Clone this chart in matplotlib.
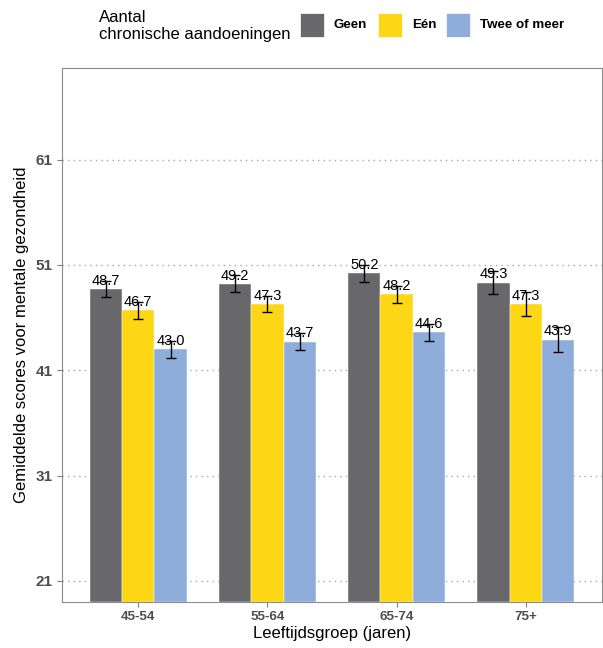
import numpy as np
import matplotlib
matplotlib.use('Agg')
from matplotlib import pyplot as plt
from matplotlib.patches import Rectangle

plt.rcParams['font.family'] = ['Liberation Sans', 'DejaVu Sans']

# data
leeftijd = ['45-54', '55-64', '65-74', '75+']
groepen = ['Geen', 'Eén', 'Twee of meer']
geen = [48.7, 49.2, 50.2, 49.3]
een = [46.7, 47.3, 48.2, 47.3]
twee = [43.0, 43.7, 44.6, 43.9]
geen_err = [0.75, 0.8, 0.8, 1.1]
een_err = [0.8, 0.75, 0.8, 1.15]
twee_err = [0.8, 0.8, 0.8, 1.2]
yticks = [21, 31, 41, 51, 61]

kleuren = ['#68686a', '#fdd716', '#8fadda']
grijs = '#4d4d4d'


def main():
    fig = plt.figure(figsize=(6.03, 6.48), dpi=100)
    ax = fig.add_axes([62 / 603, 46 / 648, 540 / 603, 534 / 648])

    x = np.arange(1, len(leeftijd) + 1)
    breedte = 0.25
    reeksen = [(geen, geen_err), (een, een_err), (twee, twee_err)]
    for i, (waarden, fout) in enumerate(reeksen):
        pos = x + (i - 1) * breedte
        ax.bar(pos, np.array(waarden) - 19, bottom=19, width=breedte,
               color=kleuren[i], edgecolor='white', linewidth=0.3, zorder=2)
        ax.errorbar(pos, waarden, yerr=fout, fmt='none', ecolor='black',
                    elinewidth=1, capsize=3.3, capthick=1, zorder=3)
        for px, v in zip(pos, waarden):
            ax.annotate('{:.1f}'.format(v), (px, v), xytext=(0, 1),
                        textcoords='offset points', ha='center', va='bottom',
                        fontsize=10.5, color='black', zorder=4)

    ax.set_xlim(0.41, 4.59)
    ax.set_ylim(19, 69.7)
    ax.set_xticks(x)
    ax.set_xticklabels(leeftijd, fontweight='bold', color=grijs, fontsize=9.6)
    ax.set_yticks(yticks)
    ax.set_yticklabels([str(t) for t in yticks], fontweight='bold',
                       color=grijs, fontsize=11)
    ax.tick_params(length=3.3, color='#7f7f7f', width=0.8, pad=3.5)
    ax.yaxis.grid(True, linestyle=(0, (1, 3)), color='#a8a8a8', linewidth=1, zorder=0)
    ax.set_axisbelow(True)
    for s in ax.spines.values():
        s.set_color('#8c8c8c')
        s.set_linewidth(0.8)

    ax.set_xlabel('Leeftijdsgroep (jaren)', fontsize=12, labelpad=2)
    ax.set_ylabel('Gemiddelde scores voor mentale gezondheid', fontsize=12, labelpad=5)

    # legend on top
    fig.text(99 / 603, 1 - 39.5 / 648, 'Aantal\nchronische aandoeningen',
             fontsize=12, ha='left', va='baseline', linespacing=1.2)
    key_x = [300, 378, 446]
    for kx, kleur, naam in zip(key_x, kleuren, groepen):
        fig.add_artist(Rectangle((kx / 603, 1 - 37 / 648), 24 / 603, 24 / 648,
                                 transform=fig.transFigure, facecolor=kleur,
                                 edgecolor='white', linewidth=0.5))
        fig.text((kx + 34) / 603, 1 - 25 / 648, naam, fontsize=9.6,
                 fontweight='bold', ha='left', va='center')

    fig.savefig('out.png', dpi=100)


if __name__ == '__main__':
    main()
